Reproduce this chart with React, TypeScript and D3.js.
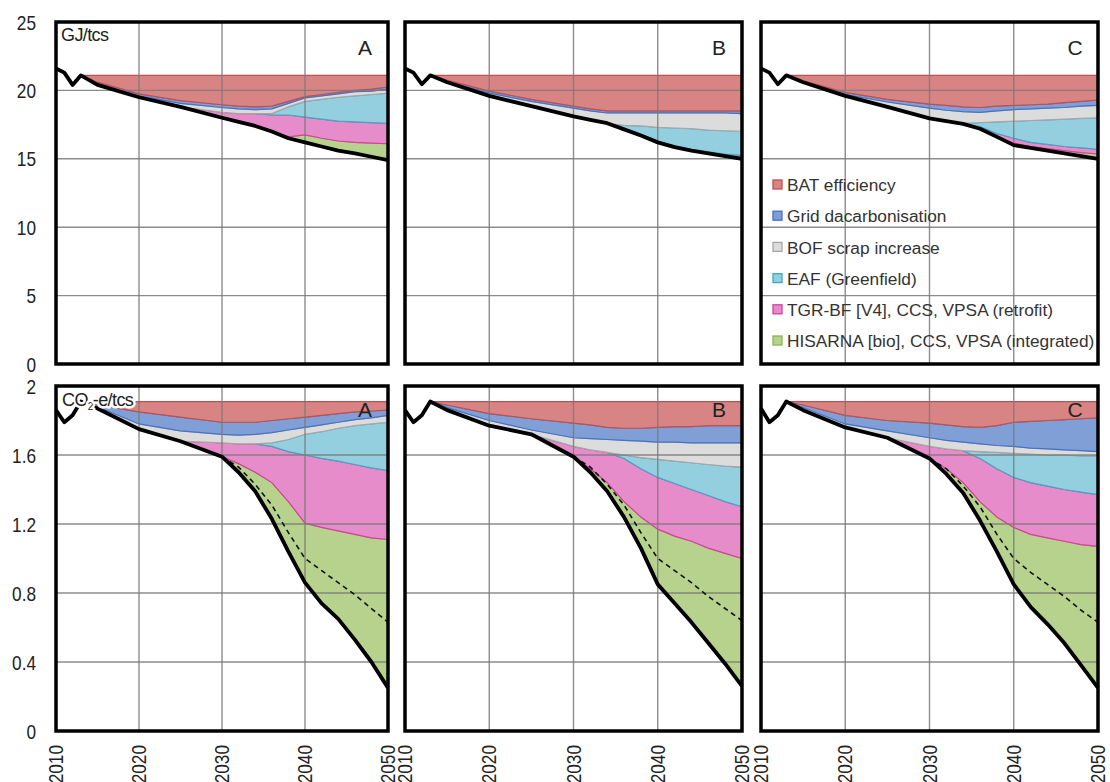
import * as d3 from 'd3';

// annual points (result line)
const years = [2010, 2011, 2012, 2013, 2015, 2020, 2025, 2030, 2032, 2034, 2036, 2038, 2040, 2042, 2044, 2046, 2048, 2050];
// wedges start once the reference line starts (2013)
const wedgeYears = [2013, 2015, 2020, 2025, 2030, 2032, 2034, 2036, 2038, 2040, 2042, 2044, 2046, 2048, 2050];
const dashYears = [2030, 2032, 2034, 2036, 2038, 2040, 2042, 2044, 2046, 2048, 2050];

const xTicks = [2010, 2020, 2030, 2040, 2050];
const energyTicks = [0, 5, 10, 15, 20, 25];
const emissionTicks = [0, 0.4, 0.8, 1.2, 1.6, 2];
const scenarios = ['A', 'B', 'C'];

const techKeys = ['bat', 'grid', 'scrap', 'eaf', 'tgr', 'hisarna'];
const techNames = [
  'BAT efficiency',
  'Grid dacarbonisation',
  'BOF scrap increase',
  'EAF (Greenfield)',
  'TGR-BF [V4], CCS, VPSA (retrofit)',
  'HISARNA [bio], CCS, VPSA (integrated)',
];
const techFill = ['#d98484', '#7f9fd6', '#dcdcdc', '#93cfdf', '#e78ccb', '#b7d28c'];
const techStroke = ['#c0504d', '#4472c4', '#a6a6a6', '#41a7c4', '#d3409d', '#8db252'];

// ---- GJ/tcs, rows = scenario A, B, C
const energyResult = [
  [21.6, 21.3, 20.4, 21.1, 20.4, 19.5, 18.8, 18.0, 17.7, 17.4, 17.0, 16.5, 16.2, 15.9, 15.6, 15.4, 15.15, 14.9],
  [21.6, 21.3, 20.45, 21.1, 20.6, 19.6, 18.85, 18.1, 17.85, 17.6, 17.15, 16.7, 16.2, 15.85, 15.6, 15.4, 15.2, 15.0],
  [21.6, 21.3, 20.45, 21.1, 20.6, 19.6, 18.8, 17.95, 17.75, 17.55, 17.2, 16.6, 16.0, 15.8, 15.6, 15.4, 15.2, 15.0],
];
const energyBat = [
  [0, 0.5, 1.35, 1.85, 2.15, 2.25, 2.3, 2.25, 1.9, 1.55, 1.4, 1.25, 1.1, 1.0, 0.85],
  [0, 0.35, 1.15, 1.75, 2.25, 2.45, 2.6, 2.6, 2.6, 2.6, 2.6, 2.6, 2.6, 2.6, 2.6],
  [0, 0.4, 1.25, 1.75, 2.1, 2.2, 2.3, 2.35, 2.25, 2.2, 2.15, 2.1, 2.0, 1.9, 1.8],
];
const energyGrid = [
  [0, 0.1, 0.15, 0.2, 0.2, 0.2, 0.2, 0.2, 0.15, 0.1, 0.1, 0.1, 0.1, 0.15, 0.15],
  [0, 0.1, 0.15, 0.15, 0.15, 0.15, 0.15, 0.15, 0.15, 0.15, 0.15, 0.15, 0.15, 0.15, 0.2],
  [0, 0.05, 0.15, 0.2, 0.3, 0.35, 0.35, 0.35, 0.35, 0.3, 0.3, 0.3, 0.35, 0.35, 0.4],
];
const energyScrap = [
  [0, 0.1, 0.1, 0.25, 0.35, 0.35, 0.3, 0.35, 0.25, 0.25, 0.25, 0.25, 0.3, 0.25, 0.3],
  [0, 0.05, 0.2, 0.35, 0.6, 0.65, 0.75, 0.9, 0.95, 1.05, 1.1, 1.15, 1.25, 1.3, 1.3],
  [0, 0.05, 0.1, 0.35, 0.75, 0.8, 0.85, 0.75, 0.8, 0.85, 0.85, 0.85, 0.85, 0.9, 0.9],
];
const energyEaf = [
  [0, 0, 0, 0, 0, 0, 0, 0.1, 0.6, 1.15, 1.45, 1.75, 1.9, 2.05, 2.2],
  [0, 0, 0, 0, 0, 0, 0, 0.2, 0.6, 1.0, 1.3, 1.5, 1.6, 1.7, 1.75],
  [0, 0, 0, 0, 0, 0, 0, 0.3, 0.85, 1.25, 1.6, 1.8, 2.0, 2.15, 2.3],
];
const energyTgr = [
  [0, 0, 0, 0, 0.4, 0.6, 0.9, 1.2, 1.6, 1.3, 1.4, 1.45, 1.5, 1.5, 1.5],
  [0, 0, 0, 0, 0, 0, 0, 0.1, 0.1, 0.1, 0.1, 0.1, 0.1, 0.15, 0.15],
  [0, 0, 0, 0, 0, 0, 0.05, 0.15, 0.25, 0.35, 0.3, 0.3, 0.3, 0.35, 0.35],
];
const energyHisarna = [
  [0, 0, 0, 0, 0, 0, 0, 0, 0.1, 0.55, 0.6, 0.7, 0.8, 1.0, 1.2],
  [0, 0, 0, 0, 0, 0, 0, 0, 0, 0, 0, 0, 0, 0, 0.1],
  [0, 0, 0, 0, 0, 0, 0, 0, 0, 0.15, 0.1, 0.15, 0.2, 0.25, 0.35],
];

// ---- CO2-e/tcs
const emissionResult = [
  [1.86, 1.79, 1.83, 1.91, 1.87, 1.75, 1.68, 1.59, 1.5, 1.39, 1.23, 1.04, 0.86, 0.74, 0.65, 0.53, 0.4, 0.25],
  [1.86, 1.79, 1.83, 1.91, 1.86, 1.77, 1.72, 1.59, 1.5, 1.39, 1.24, 1.06, 0.85, 0.74, 0.63, 0.51, 0.39, 0.26],
  [1.87, 1.79, 1.83, 1.91, 1.86, 1.76, 1.7, 1.58, 1.49, 1.38, 1.22, 1.04, 0.85, 0.72, 0.62, 0.51, 0.38, 0.25],
];
const emissionBat = [
  [0, 0.02, 0.06, 0.09, 0.12, 0.12, 0.12, 0.11, 0.1, 0.09, 0.08, 0.07, 0.06, 0.055, 0.05],
  [0, 0.02, 0.07, 0.1, 0.125, 0.135, 0.15, 0.155, 0.155, 0.15, 0.145, 0.145, 0.14, 0.14, 0.14],
  [0, 0.02, 0.08, 0.11, 0.125, 0.135, 0.145, 0.15, 0.14, 0.12, 0.115, 0.11, 0.105, 0.1, 0.095],
];
const emissionGrid = [
  [0, 0.01, 0.07, 0.08, 0.07, 0.075, 0.07, 0.07, 0.065, 0.06, 0.055, 0.05, 0.045, 0.04, 0.03],
  [0, 0.015, 0.04, 0.065, 0.085, 0.08, 0.07, 0.07, 0.075, 0.085, 0.09, 0.095, 0.1, 0.1, 0.1],
  [0, 0.015, 0.05, 0.06, 0.085, 0.09, 0.09, 0.095, 0.115, 0.14, 0.155, 0.165, 0.175, 0.185, 0.195],
];
const emissionScrap = [
  [0, 0.01, 0.03, 0.06, 0.05, 0.05, 0.055, 0.06, 0.055, 0.04, 0.04, 0.035, 0.035, 0.035, 0.04],
  [0, 0.015, 0.03, 0.025, 0.05, 0.065, 0.075, 0.085, 0.095, 0.1, 0.11, 0.115, 0.125, 0.135, 0.14],
  [0, 0.015, 0.02, 0.04, 0.05, 0.05, 0.05, 0.045, 0.04, 0.04, 0.035, 0.035, 0.03, 0.03, 0.025],
];
const emissionEaf = [
  [0, 0, 0, 0, 0, 0, 0, 0.02, 0.07, 0.12, 0.155, 0.19, 0.225, 0.255, 0.28],
  [0, 0, 0, 0, 0, 0, 0, 0.02, 0.065, 0.105, 0.13, 0.155, 0.18, 0.205, 0.23],
  [0, 0, 0, 0, 0, 0, 0, 0.04, 0.095, 0.14, 0.165, 0.18, 0.2, 0.21, 0.225],
];
const emissionTgr = [
  [0, 0, 0, 0, 0.08, 0.115, 0.165, 0.21, 0.29, 0.395, 0.4, 0.405, 0.405, 0.405, 0.4],
  [0, 0, 0, 0, 0.06, 0.11, 0.175, 0.25, 0.28, 0.3, 0.305, 0.3, 0.305, 0.3, 0.3],
  [0, 0, 0, 0, 0.07, 0.115, 0.185, 0.25, 0.28, 0.29, 0.3, 0.3, 0.3, 0.305, 0.3],
];
const emissionHisarna = [
  [0, 0, 0, 0, 0, 0.05, 0.11, 0.21, 0.29, 0.345, 0.44, 0.51, 0.61, 0.72, 0.86],
  [0, 0, 0, 0, 0, 0.02, 0.05, 0.09, 0.18, 0.32, 0.39, 0.47, 0.55, 0.64, 0.74],
  [0, 0, 0, 0, 0, 0.03, 0.06, 0.11, 0.2, 0.33, 0.42, 0.5, 0.59, 0.7, 0.82],
];
// dashed line in the emission panels
const emissionDashed = [
  [1.59, 1.53, 1.43, 1.31, 1.15, 1.0, 0.93, 0.86, 0.79, 0.71, 0.63],
  [1.59, 1.53, 1.43, 1.31, 1.15, 1.0, 0.93, 0.86, 0.78, 0.71, 0.64],
  [1.58, 1.52, 1.42, 1.3, 1.14, 1.0, 0.92, 0.85, 0.78, 0.7, 0.63],
];

const energyWedges = [energyBat, energyGrid, energyScrap, energyEaf, energyTgr, energyHisarna];
const emissionWedges = [emissionBat, emissionGrid, emissionScrap, emissionEaf, emissionTgr, emissionHisarna];

// layout
const W = 1110;
const H = 782;
const panelX = [[56, 388], [405, 742], [761, 1098]];
const rowY = [[22, 364], [386, 731]];
const font = "'Liberation Sans', Arial, sans-serif";
const ink = '#222';

function Panel({ s, r }: { s: number; r: number }) {
  const [x0, x1] = panelX[s];
  const [yTop, yBot] = rowY[r];
  const x = d3.scaleLinear().domain([2010, 2050]).range([x0, x1]);
  const y = d3.scaleLinear().domain([0, r === 0 ? 25 : 2]).range([yBot, yTop]);
  const yTicks = r === 0 ? energyTicks : emissionTicks;

  const result = (r === 0 ? energyResult : emissionResult)[s];
  const wedges = (r === 0 ? energyWedges : emissionWedges).map(w => w[s]);

  const rows = wedgeYears.map((yr, i) => {
    const o: any = { year: yr, base: result[years.indexOf(yr)] };
    techKeys.forEach((k, j) => { o[k] = wedges[j][i]; });
    return o;
  });
  // bottom-up: hisarna first, bat on top
  const stacked = d3.stack<any>().keys([...techKeys].reverse())(rows);

  const area = d3.area<any>()
    .x(d => x(d.data.year))
    .y0(d => y(d.data.base + d[0]))
    .y1(d => y(d.data.base + d[1]));

  const resultLine = d3.line<number>()
    .x((d, i) => x(years[i]))
    .y(d => y(d));

  const dashLine = d3.line<number>()
    .x((d, i) => x(dashYears[i]))
    .y(d => y(d));

  return (
    <g>
      {stacked.map(ser => {
        const j = techKeys.indexOf(ser.key);
        const th = wedges[j];
        const on = (i: number) => th[i] > 0 || (th[i - 1] ?? 0) > 0 || (th[i + 1] ?? 0) > 0;
        const lo = d3.line<any>().defined((d, i) => on(i)).x(d => x(d.data.year)).y(d => y(d.data.base + d[0]));
        const hi = d3.line<any>().defined((d, i) => on(i)).x(d => x(d.data.year)).y(d => y(d.data.base + d[1]));
        return (
          <g key={ser.key}>
            <path d={area(ser) || ''} fill={techFill[j]} stroke="none" />
            <path d={lo(ser) || ''} fill="none" stroke={techStroke[j]} strokeWidth={1.2} />
            <path d={hi(ser) || ''} fill="none" stroke={techStroke[j]} strokeWidth={1.2} />
          </g>
        );
      })}

      {/* grid */}
      {xTicks.slice(1, -1).map(t => (
        <line key={'gx' + t} x1={x(t)} x2={x(t)} y1={yTop} y2={yBot} stroke="#7a7a7a" strokeWidth={1.4} opacity={0.85} />
      ))}
      {yTicks.slice(1, -1).map(t => (
        <line key={'gy' + t} x1={x0} x2={x1} y1={y(t)} y2={y(t)} stroke="#7a7a7a" strokeWidth={1.4} opacity={0.85} />
      ))}

      {r === 1 && (
        <path d={dashLine(emissionDashed[s]) || ''} fill="none" stroke="#111" strokeWidth={1.6} strokeDasharray="5,4" />
      )}
      <path d={resultLine(result) || ''} fill="none" stroke="#000" strokeWidth={3.8} strokeLinejoin="round" />

      <rect x={x0} y={yTop} width={x1 - x0} height={yBot - yTop} fill="none" stroke="#000" strokeWidth={3.5} />

      {/* scenario letter */}
      <text x={x1 - 23} y={r === 0 ? 55 : 417} textAnchor="middle" fontSize={21} fill={ink} fontFamily={font}>
        {scenarios[s]}
      </text>

      {s === 0 && r === 0 && (
        <text x={61} y={41} fontSize={18} fill={ink} fontFamily={font} letterSpacing={-0.6}>GJ/tcs</text>
      )}
      {s === 0 && r === 1 && (
        <text x={62} y={406} fontSize={18} fill={ink} fontFamily={font} letterSpacing={-0.6}
          stroke="#fff" strokeWidth={5} strokeLinejoin="round" style={{ paintOrder: 'stroke' }}>
          CO<tspan fontSize={10} dy={4}>2</tspan><tspan dy={-4}>-e/tcs</tspan>
        </text>
      )}

      {s === 0 && yTicks.map(t => (
        <text key={'ty' + t} transform={`translate(36,${y(t)}) scale(0.82,1)`} dy="0.36em" textAnchor="end"
          fontSize={21} fill={ink} fontFamily={font}>
          {String(t)}
        </text>
      ))}

      {r === 1 && xTicks.map(t => (
        <text key={'tx' + t} transform={`translate(${x(t) + 7},745) rotate(-90) scale(0.82,1)`} textAnchor="end"
          fontSize={21} fill={ink} fontFamily={font}>
          {t}
        </text>
      ))}
    </g>
  );
}

function Legend() {
  return (
    <g fontFamily={font} fontSize={17.3} fill="#333">
      {techNames.map((name, j) => {
        const cy = 185 + j * 31.2;
        return (
          <g key={name}>
            <rect x={773} y={cy - 5} width={9} height={9} fill={techFill[j]} stroke={techStroke[j]} strokeWidth={1.3} />
            <text x={787} y={cy} dy="0.36em">{name}</text>
          </g>
        );
      })}
    </g>
  );
}

export default function App() {
  return (
    <svg width={W} height={H} viewBox={`0 0 ${W} ${H}`} style={{ position: 'absolute', left: 0, top: 0, background: '#fff' }}>
      <rect x={0} y={0} width={W} height={H} fill="#fff" />
      {[0, 1].map(r => [0, 1, 2].map(s => <Panel key={r + '-' + s} s={s} r={r} />))}
      <Legend />
    </svg>
  );
}
